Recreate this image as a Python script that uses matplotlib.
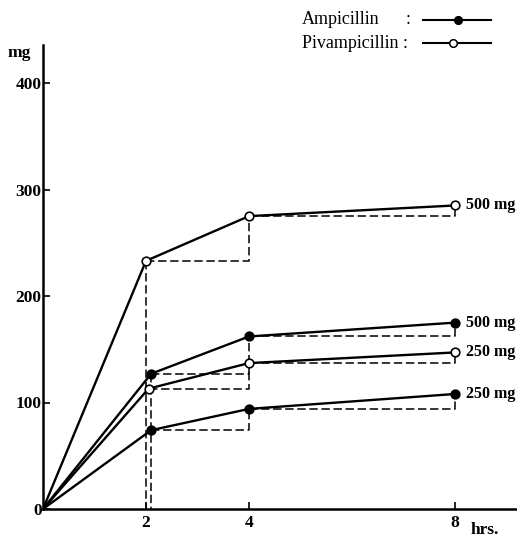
import matplotlib
matplotlib.use("Agg")
import matplotlib.pyplot as plt
from matplotlib.lines import Line2D

# ---- data ----
piv500_hours = [0, 2.0, 4, 8]
piv500_mg = [0, 233, 275, 285]
amp500_hours = [0, 2.1, 4, 8]
amp500_mg = [0, 127, 162, 175]
piv250_hours = [0, 2.05, 4, 8]
piv250_mg = [0, 113, 137, 147]
amp250_hours = [0, 2.1, 4, 8]
amp250_mg = [0, 74, 94, 108]

dose_labels = ["500 mg", "500 mg", "250 mg", "250 mg"]
x_ticks = [2, 4, 8]
y_ticks = [0, 100, 200, 300, 400]

SERIF = ["Liberation Serif", "DejaVu Serif"]
plt.rcParams["font.family"] = SERIF

W, H = 517, 539
fig = plt.figure(figsize=(W / 100, H / 100), dpi=100)
ax = fig.add_axes([43 / W, 30 / H, (W - 43) / W, (509 - 45) / H])
ax.set_xlim(0, (517 - 43) / 51.5)
ax.set_ylim(0, (509 - 45) / 1.065)

series = [
    (piv500_hours, piv500_mg, "white"),
    (amp500_hours, amp500_mg, "black"),
    (piv250_hours, piv250_mg, "white"),
    (amp250_hours, amp250_mg, "black"),
]

dash_kw = dict(color="black", lw=1.1, dashes=(5.5, 2.4), zorder=2)

for (t, y, face), lab in zip(series, dose_labels):
    # dashed step path: horizontal from each point to next time, then up
    for i in (1, 2):
        ax.plot([t[i], t[i + 1], t[i + 1]], [y[i], y[i], y[i + 1]], **dash_kw)
    ax.plot(t, y, color="black", lw=1.7, zorder=3)
    ax.plot(t[1:], y[1:], ls="none", marker="o", ms=6.2, mfc=face,
            mec="black", mew=1.2, zorder=4)
    ax.annotate(lab, (t[-1], y[-1]), xytext=(8, 0), textcoords="offset points",
                ha="left", va="center", fontsize=11.5, fontweight="bold",
                family=SERIF, annotation_clip=False)

# vertical dashed drops to the time axis at 2 hrs
ax.plot([piv500_hours[1], piv500_hours[1]], [piv500_mg[1], 0], **dash_kw)
ax.plot([amp500_hours[1], amp500_hours[1]], [amp500_mg[1], 0], **dash_kw)

# axes styling
for s in ("top", "right"):
    ax.spines[s].set_visible(False)
ax.spines["left"].set_linewidth(1.8)
ax.spines["bottom"].set_linewidth(1.8)
ax.set_xticks(x_ticks)
ax.set_xticklabels([str(v) for v in x_ticks])
ax.set_yticks(y_ticks)
ax.set_yticklabels([str(v) for v in y_ticks])
ax.tick_params(axis="both", direction="in", length=5, width=1.2,
               labelsize=12.5)
ax.tick_params(axis="y", pad=1)
ax.tick_params(axis="x", pad=4)
for lbl in ax.get_xticklabels() + ax.get_yticklabels():
    lbl.set_fontweight("bold")

# axis unit labels
fig.text(19 / W, 1 - 53 / H, "mg", ha="center", va="center",
         fontsize=12.5, fontweight="bold")
fig.text(471 / W, 1 - 530 / H, "hrs.", ha="left", va="center",
         fontsize=12.5, fontweight="bold")

# legend (hand-drawn style)
fig.text(302 / W, 1 - 20 / H, "Ampicillin", ha="left", va="center",
         fontsize=13)
fig.text(406 / W, 1 - 20 / H, ":", ha="left", va="center", fontsize=13)
fig.text(302 / W, 1 - 43 / H, "Pivampicillin :", ha="left", va="center",
         fontsize=13)
for yy, mx, face in ((20, 458, "black"), (43, 453, "white")):
    fig.add_artist(Line2D([423 / W, 491 / W], [1 - yy / H, 1 - yy / H],
                          color="black", lw=1.5, transform=fig.transFigure))
    fig.add_artist(Line2D([mx / W], [1 - yy / H], ls="none", marker="o",
                          ms=5.5, mfc=face, mec="black", mew=1.1,
                          transform=fig.transFigure))

fig.savefig("out.png", dpi=100)
